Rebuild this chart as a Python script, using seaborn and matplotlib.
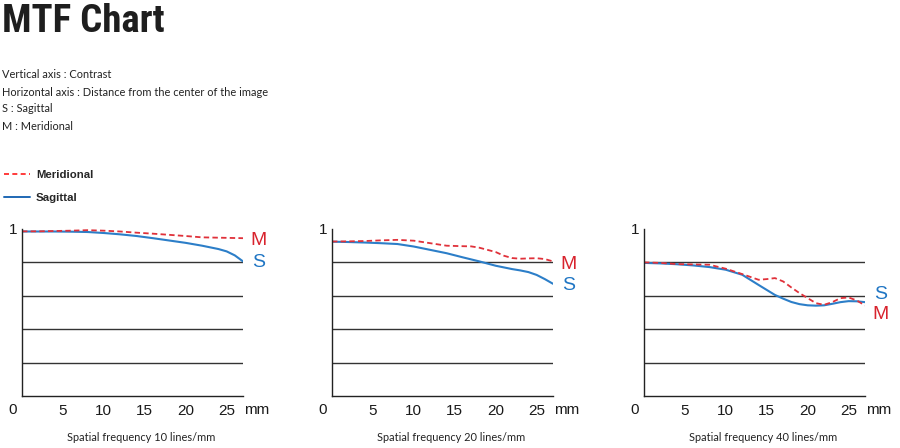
import numpy as np
import pandas as pd
import matplotlib.pyplot as plt
import seaborn as sns
from matplotlib.lines import Line2D

# distance from image center (mm)
x_10 = [0, 2, 4, 6, 8, 10, 12, 14, 16, 18, 20, 22, 24, 25, 26, 27]
m_10 = [0.986, 0.986, 0.988, 0.990, 0.993, 0.990, 0.985, 0.978, 0.972, 0.965, 0.958, 0.950, 0.948, 0.947, 0.946, 0.945]
s_10 = [0.985, 0.985, 0.985, 0.984, 0.982, 0.976, 0.968, 0.958, 0.945, 0.931, 0.917, 0.900, 0.880, 0.866, 0.842, 0.806]

x_20 = [0, 2, 4, 6, 8, 10, 12, 14, 16, 17, 18, 20, 21, 22, 23, 24, 25, 26, 27]
m_20 = [0.925, 0.926, 0.928, 0.932, 0.935, 0.930, 0.915, 0.900, 0.897, 0.896, 0.888, 0.862, 0.840, 0.826, 0.822, 0.824, 0.825, 0.820, 0.806]
s_20 = [0.924, 0.922, 0.919, 0.915, 0.910, 0.895, 0.875, 0.855, 0.830, 0.818, 0.806, 0.780, 0.770, 0.760, 0.752, 0.742, 0.725, 0.700, 0.672]

x_40 = [0, 2, 4, 6, 8, 10, 12, 14, 15, 16, 17, 18, 19, 20, 21, 22, 23, 24, 25, 26, 27]
m_40 = [0.800, 0.797, 0.790, 0.788, 0.786, 0.762, 0.730, 0.696, 0.700, 0.706, 0.686, 0.650, 0.616, 0.586, 0.556, 0.546, 0.562, 0.586, 0.590, 0.572, 0.542]
s_40 = [0.797, 0.794, 0.789, 0.782, 0.772, 0.756, 0.726, 0.665, 0.635, 0.605, 0.583, 0.563, 0.550, 0.543, 0.541, 0.543, 0.552, 0.562, 0.568, 0.567, 0.562]

captions = ["Spatial frequency 10 lines/mm", "Spatial frequency 20 lines/mm", "Spatial frequency 40 lines/mm"]
x_ticks = [5, 10, 15, 20, 25]
grid_levels = [0.2, 0.4, 0.6, 0.8]
# label heights for the M / S tags at the right end of each panel
tag_m = [0.934, 0.790, 0.487]
tag_s = [0.797, 0.660, 0.605]

RED = "#e0313a"
BLUE = "#2c7ec8"

sns.set_style("white")
plt.rcParams['font.family'] = ['Liberation Sans', 'DejaVu Sans']

fig = plt.figure(figsize=(9, 4.48), dpi=100)

# header text (original uses a narrow display face; Roboto bold is the closest installed)
fig.text(0.002, 0.993, "MTF Chart", family=['Liberation Sans Narrow', 'Roboto Condensed', 'Roboto', 'DejaVu Sans'],
         fontweight='bold', fontsize=28, color='#1e1e1e', va='top', ha='left')
notes = ["Vertical axis : Contrast",
         "Horizontal axis : Distance from the center of the image",
         "S : Sagittal",
         "M : Meridional"]
for i, t in enumerate(notes):
    fig.text(0.002, 1 - (75 + 17 * i) / 448, t, family=['Lato', 'DejaVu Sans'],
             fontsize=7.9, color='#222222', va='center', ha='left')

handles = [Line2D([], [], color='#ff1a1a', lw=1.2, dashes=(3, 2)),
           Line2D([], [], color='#1f68b4', lw=1.4)]
fig.legend(handles, ["Meridional", "Sagittal"], loc='upper left',
           bbox_to_anchor=(-0.007, 1 - 160 / 448), frameon=False, handlelength=2.3,
           handletextpad=0.5, labelspacing=1.15, prop={'weight': 'bold', 'size': 8.2})

panels = [(x_10, m_10, s_10), (x_20, m_20, s_20), (x_40, m_40, s_40)]
lefts = [22, 332, 644]
for k, (xs, ms, ss) in enumerate(panels):
    ax = fig.add_axes([lefts[k] / 900, 52 / 448, 221 / 900, 167 / 448])
    df = pd.DataFrame({"x": xs, "M": ms, "S": ss})
    sns.lineplot(data=df, x="x", y="S", ax=ax, color=BLUE, lw=1.5)
    sns.lineplot(data=df, x="x", y="M", ax=ax, color=RED, lw=1.3)
    ax.lines[-1].set_dashes((3, 1.8))

    ax.set_xlim(0, 27)
    ax.set_ylim(0, 1.0)
    ax.set_xlabel("")
    ax.set_ylabel("")
    ax.set_yticks(grid_levels)
    ax.set_yticklabels([])
    ax.tick_params(axis='y', length=0)
    ax.yaxis.grid(True, color='#333333', lw=1)
    ax.set_xticks(x_ticks)
    ax.set_xticklabels([str(v) for v in x_ticks], fontsize=11, color='#1a1a1a')
    ax.tick_params(axis='x', direction='in', length=3, width=1, color='#222222', pad=5.5)
    for side in ['top', 'right']:
        ax.spines[side].set_visible(False)
    for side in ['left', 'bottom']:
        ax.spines[side].set_color('#222222')
        ax.spines[side].set_linewidth(1)

    ax.annotate("0", xy=(0, 0), xycoords='axes fraction', xytext=(-6.5, -10),
                textcoords='offset points', ha='center', va='center', fontsize=11, color='#1a1a1a')
    ax.annotate("1", xy=(0, 1), xycoords='axes fraction', xytext=(-6.5, -1),
                textcoords='offset points', ha='center', va='center', fontsize=11, color='#1a1a1a')
    ax.annotate("mm", xy=(1, 0), xycoords='axes fraction', xytext=(1, -10),
                textcoords='offset points', ha='left', va='center', fontsize=11, color='#1a1a1a')
    ax.annotate(captions[k], xy=(0.5, 0), xycoords='axes fraction', xytext=(6, -30),
                textcoords='offset points', ha='center', va='center', fontsize=7.9,
                family=['Lato', 'DejaVu Sans'], color='#222222')
    ax.annotate("M", xy=(1, tag_m[k]), xycoords=('axes fraction', 'data'), xytext=(11, 0),
                textcoords='offset points', ha='center', va='center', fontsize=14, color='#d8232d')
    ax.annotate("S", xy=(1, tag_s[k]), xycoords=('axes fraction', 'data'), xytext=(11, 0),
                textcoords='offset points', ha='center', va='center', fontsize=14, color='#2076c4')

fig.savefig("out.png", dpi=100)
